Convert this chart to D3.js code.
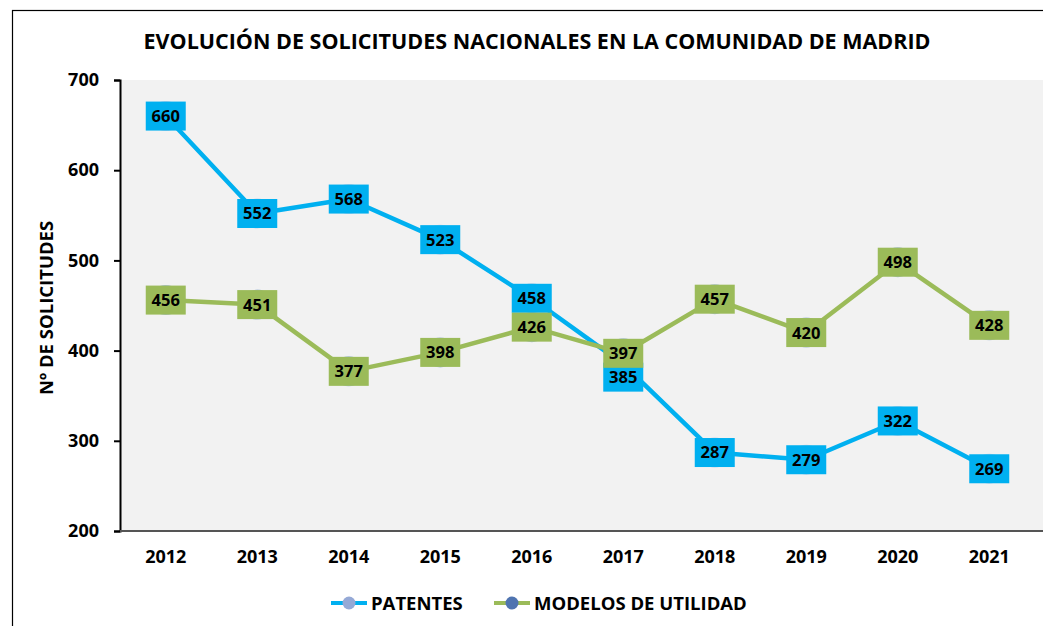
<!DOCTYPE html>
<html>
<head>
<meta charset="utf-8">
<script src="https://cdn.jsdelivr.net/npm/d3@7"></script>
<style>
  body { margin: 0; background: #fff; }
  text { font-family: "Open Sans", sans-serif; font-weight: bold; }
</style>
</head>
<body>
<div id="chart"></div>
<script>
var years = ["2012","2013","2014","2015","2016","2017","2018","2019","2020","2021"];
var patentes = [660,552,568,523,458,385,287,279,322,269];
var modelos = [456,451,377,398,426,397,457,420,498,428];
var yTicks = [200,300,400,500,600,700];

var width = 1043, height = 626;
var margin = {top: 80, right: 8, bottom: 95, left: 120};

var svg = d3.select("#chart").append("svg")
  .attr("width", width)
  .attr("height", height);

// outer frame
svg.append("rect")
  .attr("x", 12.5).attr("y", 10.5)
  .attr("width", width).attr("height", height)
  .attr("fill", "none").attr("stroke", "#000").attr("stroke-width", 1.2);

var x = d3.scaleBand().domain(years).range([margin.left, 1035]);
var y = d3.scaleLinear().domain([200, 700]).range([531, margin.top]);

// plot area
svg.append("rect")
  .attr("x", margin.left).attr("y", y(700))
  .attr("width", width - margin.left).attr("height", y(200) - y(700))
  .attr("fill", "#f2f2f2");

svg.append("text")
  .attr("x", 537).attr("y", 49)
  .attr("text-anchor", "middle")
  .style("font-size", "21.5px")
  .text("EVOLUCIÓN DE SOLICITUDES NACIONALES EN LA COMUNIDAD DE MADRID");

// y axis
var yAxis = svg.append("g")
  .attr("transform", "translate(" + margin.left + ",0)")
  .call(d3.axisLeft(y).tickValues(yTicks).tickSize(6).tickPadding(15));
yAxis.select(".domain").attr("stroke", "#000").attr("stroke-width", 2);
yAxis.selectAll(".tick line").attr("stroke", "#000").attr("stroke-width", 2);
yAxis.selectAll(".tick text").style("font-size", "18px").attr("fill", "#000");

// x axis
var xAxis = svg.append("g")
  .attr("transform", "translate(0," + y(200) + ")")
  .call(d3.axisBottom(x).tickSize(0).tickPadding(19));
xAxis.select(".domain").attr("d", "M" + margin.left + ",0H" + width).attr("stroke", "#555").attr("stroke-width", 2);
xAxis.selectAll(".tick text").style("font-size", "18px").attr("fill", "#000");

svg.append("text")
  .attr("transform", "translate(53,308) rotate(-90)")
  .attr("text-anchor", "middle")
  .style("font-size", "18.5px")
  .text("Nº DE SOLICITUDES");

var series = [
  {name: "PATENTES", values: patentes, color: "#00b0f0", marker: "#9fb0d8", offsets: [0,0,0,0,0,13,0,0,0,0]},
  {name: "MODELOS DE UTILIDAD", values: modelos, color: "#9bbb59", marker: "#4f81bd", offsets: [0,0,0,0,0,0,0,0,0,0]}
];

var line = d3.line()
  .x(function(d, i) { return x(years[i]) + x.bandwidth() / 2; })
  .y(function(d) { return y(d); });

series.forEach(function(s) {
  svg.append("path")
    .datum(s.values)
    .attr("d", line)
    .attr("fill", "none")
    .attr("stroke", s.color)
    .attr("stroke-width", 4.5)
    .attr("stroke-linejoin", "round");
});

series.forEach(function(s) {
  svg.append("g").selectAll("circle")
    .data(s.values).enter().append("circle")
      .attr("cx", function(d, i) { return x(years[i]) + x.bandwidth() / 2; })
      .attr("cy", function(d) { return y(d); })
      .attr("r", 15)
      .attr("fill", s.marker)
      .attr("opacity", 0.45);
});

series.forEach(function(s) {
  var lab = svg.append("g").selectAll("g")
    .data(s.values).enter().append("g")
      .attr("transform", function(d, i) {
        return "translate(" + (x(years[i]) + x.bandwidth() / 2) + "," + (y(d) + s.offsets[i]) + ")";
      });
  lab.append("rect")
    .attr("x", -20).attr("y", -14.5)
    .attr("width", 40).attr("height", 29)
    .attr("fill", s.color);
  lab.append("text")
    .attr("text-anchor", "middle")
    .attr("dy", "0.36em")
    .style("font-size", "16.5px")
    .attr("fill", "#000")
    .text(function(d) { return d; });
});

// legend
var legend = svg.append("g").attr("transform", "translate(0,603)");
var legX = [331, 494];
series.forEach(function(s, i) {
  var g = legend.append("g").attr("transform", "translate(" + legX[i] + ",0)");
  g.append("line").attr("x1", 0).attr("x2", 36).attr("stroke", s.color).attr("stroke-width", 4);
  g.append("circle").attr("cx", 18).attr("r", 6.5).attr("fill", i === 0 ? "#95a9d6" : "#4f74b0");
  g.append("text").attr("x", 40).attr("dy", "0.36em").style("font-size", "18.5px").text(s.name);
});
</script>
</body>
</html>
